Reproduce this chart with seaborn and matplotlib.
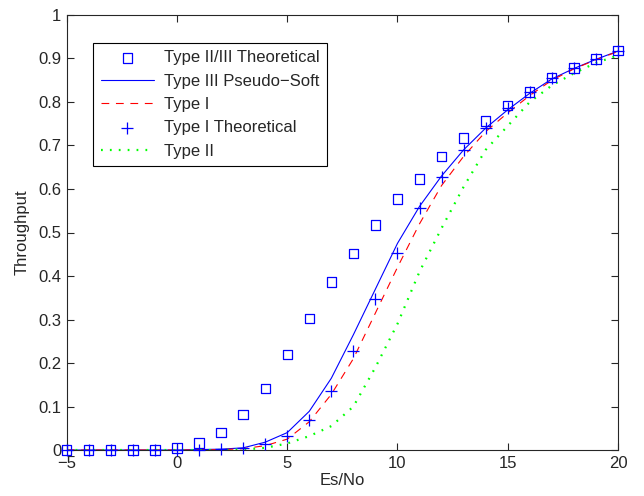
import matplotlib
matplotlib.use("Agg")
import matplotlib.pyplot as plt
import seaborn as sns
import numpy as np

x = list(range(-5, 21))

type23_theory = [0, 0, 0, 0, 0, 0.005, 0.016, 0.041, 0.081, 0.142, 0.219, 0.302, 0.386,
                 0.452, 0.517, 0.577, 0.623, 0.674, 0.717, 0.756, 0.792, 0.823, 0.856,
                 0.878, 0.899, 0.918]
type3_soft = [0, 0, 0, 0, 0, 0, 0.001, 0.002, 0.005, 0.018, 0.040, 0.089, 0.165, 0.265,
              0.370, 0.475, 0.560, 0.630, 0.690, 0.740, 0.782, 0.820, 0.853, 0.877,
              0.898, 0.917]
type1 = [0, 0, 0, 0, 0, 0, 0, 0.001, 0.003, 0.010, 0.025, 0.065, 0.128, 0.210, 0.315,
         0.420, 0.520, 0.608, 0.675, 0.732, 0.775, 0.815, 0.850, 0.876, 0.897, 0.916]
type1_theory = [0, 0, 0, 0, 0, 0.001, 0.001, 0.002, 0.005, 0.013, 0.032, 0.068, 0.135,
                0.228, 0.347, 0.452, 0.557, 0.627, 0.689, 0.740, 0.787, 0.822, 0.856,
                0.877, 0.898, 0.917]
type2 = [0, 0, 0, 0, 0, 0, 0, 0, 0.001, 0.005, 0.015, 0.032, 0.055, 0.100, 0.190, 0.290,
         0.410, 0.510, 0.605, 0.690, 0.745, 0.800, 0.838, 0.866, 0.890, 0.907]

labels = ["Type II/III Theoretical", "Type III Pseudo\u2212Soft", "Type I",
          "Type I Theoretical", "Type II"]

sns.set_style("ticks")
plt.rcParams["font.family"] = ["Liberation Sans", "DejaVu Sans"]
plt.rcParams["font.size"] = 12
plt.rcParams["xtick.direction"] = "in"
plt.rcParams["ytick.direction"] = "in"

fig = plt.figure(figsize=(6.44, 4.96), dpi=100)
ax = fig.add_axes([0.1036, 0.0927, 0.8560, 0.8771])

sns.scatterplot(x=x, y=type23_theory, ax=ax, marker="s", s=45, facecolor="none",
                edgecolor="#0000ff", linewidth=0.9, label=labels[0], clip_on=False, zorder=3)
sns.lineplot(x=x, y=type3_soft, ax=ax, color="#0000ff", linewidth=0.8, label=labels[1])
sns.lineplot(x=x, y=type1, ax=ax, color="#ff0000", linewidth=0.8, label=labels[2])
ax.lines[-1].set_dashes((7, 6))
sns.scatterplot(x=x, y=type1_theory, ax=ax, marker="+", s=80, color="#0000ff",
                linewidth=0.9, label=labels[3], clip_on=False, zorder=3)
sns.lineplot(x=x, y=type2, ax=ax, color="#00ff00", linewidth=1.6, label=labels[4])
ax.lines[-1].set_dashes((0.8, 3.2))

ax.set_xlim(-5, 20)
ax.set_ylim(0, 1)
ax.set_xticks([-5, 0, 5, 10, 15, 20])
ax.set_xticklabels(["\u22125", "0", "5", "10", "15", "20"])
yt = [0, 0.1, 0.2, 0.3, 0.4, 0.5, 0.6, 0.7, 0.8, 0.9, 1]
ax.set_yticks(yt)
ax.set_yticklabels(["0", "0.1", "0.2", "0.3", "0.4", "0.5", "0.6", "0.7", "0.8", "0.9", "1"])
ax.tick_params(top=True, right=True, length=5, width=0.8, labelsize=12, pad=4)
for s in ax.spines.values():
    s.set_linewidth(0.8)
    s.set_visible(True)
ax.set_xlabel("Es/No", fontsize=12, labelpad=2)
ax.set_ylabel("Throughput", fontsize=12, labelpad=6)

leg = ax.legend(loc="upper left", bbox_to_anchor=(0.048, 0.936), frameon=True,
                fancybox=False, edgecolor="black", framealpha=1, fontsize=12,
                handlelength=3.2, handletextpad=0.6, labelspacing=0.5,
                borderpad=0.45, borderaxespad=0)
leg.get_frame().set_linewidth(0.8)

fig.savefig("out.png", dpi=100)
